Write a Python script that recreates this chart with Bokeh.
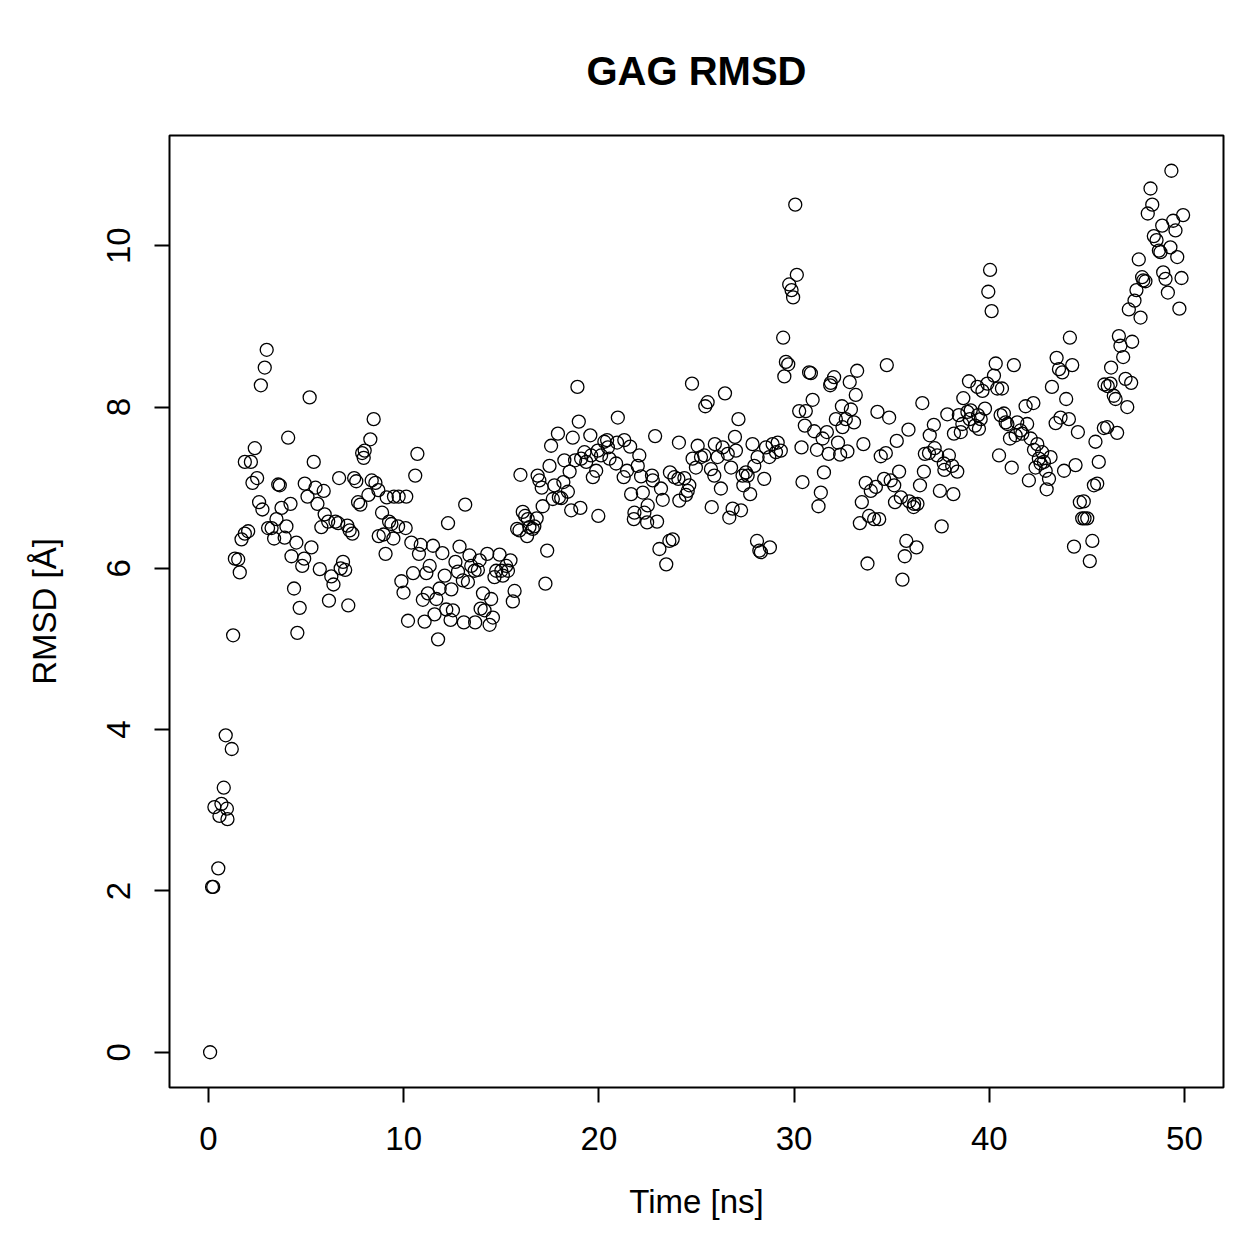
from bokeh.plotting import figure
from bokeh.models import Range1d, FixedTicker, ColumnDataSource
from bokeh.embed import file_html
from bokeh.resources import INLINE

time_ns = [
 0.08,0.18,0.24,0.30,0.50,0.56,0.66,0.78,0.88,0.94,0.97,1.19,
 1.26,1.35,1.52,1.60,1.69,1.86,2.03,1.86,2.17,2.25,2.37,2.49,2.59,2.68,2.76,2.88,2.98,
 3.05,3.23,3.36,3.48,3.57,3.65,3.74,3.90,3.99,4.08,4.20,4.25,4.38,4.50,4.55,4.67,4.80,4.90,4.93,
 5.07,5.18,5.27,5.39,5.48,5.58,5.70,5.78,5.90,5.95,6.13,6.17,6.29,6.40,6.50,6.64,6.69,6.77,6.89,
 7.00,7.11,7.16,7.23,7.37,7.46,7.57,7.66,7.78,7.87,7.95,8.00,8.19,8.29,8.36,8.46,8.55,8.70,8.72,
 8.89,8.97,9.07,9.13,9.25,9.37,9.47,9.50,9.71,9.74,9.88,9.99,10.10,10.13,10.22,
 10.39,10.48,10.59,10.70,10.78,10.87,10.98,11.07,11.16,11.24,11.33,11.50,11.58,11.67,11.76,11.84,
 11.98,12.10,12.18,12.27,12.40,12.44,12.52,12.65,12.78,12.86,13.03,13.08,13.15,13.29,13.37,13.46,
 13.63,13.66,13.80,13.89,13.94,14.06,14.14,14.28,14.40,14.48,14.57,14.65,14.74,14.91,15.00,15.08,
 15.25,15.34,15.47,15.59,15.68,15.81,15.93,15.98,16.10,16.22,16.32,16.36,16.44,16.61,16.69,16.81,
 16.86,16.95,17.07,17.12,17.26,17.35,17.47,17.55,17.64,17.72,17.90,17.95,18.07,18.18,18.23,18.41,
 18.50,18.58,18.66,18.78,18.90,18.97,19.05,19.09,19.26,19.35,19.56,19.60,19.69,19.86,19.94,19.97,
 20.11,20.28,20.46,20.54,
 20.42,20.88,20.93,20.97,21.27,21.30,21.44,21.60,21.65,21.79,21.82,21.99,22.07,22.16,22.25,22.33,
 22.47,22.50,22.72,22.76,22.88,22.98,23.10,23.18,23.27,23.45,23.61,23.64,23.78,23.87,24.07,24.10,
 24.12,24.38,24.46,24.55,24.63,24.77,24.80,24.97,25.06,25.23,25.40,25.45,25.57,25.74,25.78,25.91,
 25.94,26.08,26.25,26.34,26.46,26.60,26.68,26.77,26.85,26.97,27.02,27.15,27.28,27.36,27.40,27.53,
 27.62,27.75,27.87,27.96,28.10,28.13,28.22,28.30,28.47,28.56,28.73,28.76,28.90,29.07,29.16,29.32,
 29.44,29.50,29.58,29.70,29.75,29.87,29.95,30.06,30.14,30.26,30.38,30.43,30.55,30.60,30.77,30.86,
 30.95,31.03,31.17,31.25,31.37,31.46,31.53,31.68,31.77,31.85,31.88,32.05,32.14,32.25,32.36,32.45,
 32.48,32.65,32.73,32.85,32.91,33.07,33.16,33.23,33.37,33.47,33.55,33.67,33.76,33.84,33.93,34.10,
 34.19,34.27,34.36,34.44,34.61,34.70,34.75,34.87,34.95,35.13,35.17,35.26,35.38,35.47,35.55,35.67,
 35.75,35.86,35.90,36.12,36.15,36.27,36.32,36.45,36.57,36.65,36.70,36.91,36.95,37.16,37.20,37.33,
 37.47,37.56,37.67,37.70,37.85,37.93,38.10,38.16,38.19,38.36,38.44,38.54,38.62,38.67,38.88,38.96,
 39.00,39.05,39.27,39.39,39.42,39.47,39.56,39.65,39.78,39.90,39.95,40.04,40.12,40.24,40.33,40.41,
 40.50,40.58,
 40.65,40.75,40.84,40.93,41.06,41.15,41.26,41.35,41.43,41.60,41.69,41.86,41.94,42.03,42.12,42.26,
 42.29,42.37,42.46,42.54,42.63,42.71,42.80,42.89,42.94,43.06,43.14,43.21,43.40,43.45,43.57,43.65,
 43.74,43.83,43.94,44.08,44.13,44.25,44.34,44.42,44.54,44.64,44.76,44.84,44.88,45.02,45.15,45.28,
 45.36,45.44,45.53,45.61,45.87,45.90,46.04,46.07,46.21,46.24,46.38,46.47,46.55,46.64,46.72,46.86,
 46.98,47.07,47.15,47.27,47.32,47.44,47.54,47.66,47.75,47.83,47.89,48.00,48.12,48.26,48.35,48.43,
 48.57,48.69,48.77,48.86,48.91,49.03,49.15,49.28,49.33,49.42,49.54,49.63,49.74,49.85,49.93,
]

rmsd = [
 0.00,2.05,2.05,3.04,2.28,2.93,3.08,3.28,3.93,3.02,2.89,3.76,
 5.17,6.12,6.11,5.95,6.36,6.43,6.46,7.32,7.32,7.06,7.49,7.12,6.82,8.27,6.73,8.49,8.71,
 6.50,6.50,6.37,6.61,7.04,7.03,6.75,6.38,6.52,7.62,6.80,6.15,5.75,6.32,5.20,5.51,6.03,6.12,7.05,
 6.89,8.12,6.26,7.32,7.00,6.80,5.99,6.51,6.96,6.67,6.58,5.60,5.90,5.80,6.58,6.56,7.12,6.00,6.08,
 5.98,6.53,5.54,6.47,6.43,7.12,7.08,6.82,6.79,7.43,7.37,7.46,6.91,7.60,7.09,7.85,7.06,6.97,6.40,
 6.69,6.42,6.18,6.88,6.58,6.55,6.37,6.89,6.52,6.89,5.84,5.70,6.50,6.89,5.35,
 6.32,5.94,7.15,7.42,6.18,6.29,5.61,5.34,5.94,5.69,6.03,6.28,5.43,5.62,5.12,5.75,
 6.19,5.91,5.49,6.56,5.36,5.74,5.48,6.08,5.96,6.27,5.85,5.33,6.79,5.83,6.16,6.03,
 5.97,5.33,5.98,6.10,5.50,5.69,5.48,6.18,5.30,5.62,5.39,5.89,5.97,6.17,5.97,5.91,
 6.03,5.97,6.10,5.59,5.72,6.49,6.47,7.16,6.70,6.65,6.40,6.61,6.51,6.49,6.52,6.62,
 7.15,7.09,7.00,6.77,5.81,6.22,7.27,7.52,6.86,7.03,7.67,6.88,6.87,7.07,7.34,6.95,
 7.20,6.72,7.62,7.34,8.25,7.82,6.75,7.36,7.44,7.32,7.65,7.40,7.13,7.21,7.46,6.65,
 7.40,7.57,7.50,7.36,
 7.59,7.30,7.56,7.87,7.13,7.59,7.21,7.51,6.92,6.61,6.69,7.27,7.40,7.14,6.94,6.69,
 6.57,6.78,7.15,7.09,7.64,6.58,6.24,6.99,6.85,6.05,6.34,7.19,6.36,7.13,7.11,7.56,
 6.84,7.12,6.91,6.96,7.03,8.29,7.36,7.25,7.52,7.38,7.40,8.01,8.06,7.23,6.76,7.15,
 7.54,7.38,6.99,7.50,8.17,7.42,6.63,7.25,6.74,7.63,7.46,7.85,6.72,7.15,7.03,7.19,
 7.15,6.92,7.54,7.27,6.34,7.38,6.22,6.20,7.11,7.50,7.38,6.26,7.54,7.44,7.56,7.46,
 8.86,8.38,8.56,8.53,9.52,9.45,9.36,10.51,9.64,7.95,7.50,7.07,7.77,7.95,8.43,8.42,
 8.09,7.70,7.47,6.77,6.94,7.61,7.19,7.69,7.42,8.27,8.30,8.37,7.85,7.56,7.41,8.01,
 7.75,7.85,7.45,8.31,7.97,7.81,8.15,8.45,6.56,6.82,7.54,7.06,6.06,6.65,6.96,6.61,
 7.01,7.94,6.61,7.39,7.11,7.43,8.52,7.87,7.09,7.03,6.82,7.58,7.20,6.88,5.86,6.15,
 6.34,7.72,6.83,6.76,6.80,6.26,6.80,7.03,8.05,7.20,7.42,7.43,7.65,7.78,7.49,7.40,
 6.96,6.52,7.30,7.22,7.91,7.40,7.27,6.92,7.67,7.20,7.90,7.69,7.79,8.11,7.94,8.32,
 7.85,7.96,7.77,8.25,7.90,7.73,7.85,8.20,7.98,8.29,9.43,9.70,9.19,8.39,8.54,8.23,
 7.40,7.90,
 8.23,7.92,7.81,7.79,7.61,7.25,8.52,7.65,7.81,7.71,7.67,8.01,7.79,7.09,7.61,8.05,
 7.47,7.25,7.54,7.36,7.30,7.44,7.32,7.21,6.98,7.11,7.38,8.25,7.80,8.61,8.47,7.87,
 8.43,7.21,8.10,7.85,8.86,8.52,6.27,7.28,7.69,6.82,6.62,6.83,6.62,6.62,6.09,6.34,
 7.03,7.57,7.05,7.32,7.74,8.28,7.75,8.26,8.29,8.49,8.14,8.10,7.68,8.88,8.76,8.62,
 8.35,8.00,9.21,8.30,8.81,9.32,9.45,9.83,9.11,9.61,9.57,9.56,10.40,10.71,10.51,10.12,
 10.07,9.94,9.92,10.25,9.67,9.59,9.42,9.98,10.93,10.31,10.19,9.86,9.22,9.60,10.38,
]

x_ticks = [0, 10, 20, 30, 40, 50]
y_ticks = [0, 2, 4, 6, 8, 10]

FONT = "Liberation Sans"

src = ColumnDataSource(dict(t=time_ns, r=rmsd))

xmin, xmax = 0.0, 50.0
ymin, ymax = min(rmsd), max(rmsd)
xpad = 0.04 * (xmax - xmin)
ypad = 0.04 * (ymax - ymin)

p = figure(width=1259, height=1259, output_backend="svg", toolbar_location=None,
           x_range=Range1d(xmin - xpad, xmax + xpad),
           y_range=Range1d(ymin - ypad, ymax + ypad),
           min_border_left=169, min_border_right=36,
           min_border_top=135, min_border_bottom=172,
           title="GAG RMSD")

p.background_fill_color = "white"
p.border_fill_color = "white"
p.outline_line_color = "black"
p.outline_line_width = 2
p.grid.visible = False

p.title.align = "center"
p.title.text_font = FONT
p.title.text_font_size = "40px"
p.title.text_font_style = "bold"
p.title.text_color = "black"
p.title.standoff = 85

for ax in (p.xaxis[0], p.yaxis[0]):
    ax.axis_line_color = None
    ax.major_tick_line_color = "black"
    ax.major_tick_line_width = 2
    ax.major_tick_in = 0
    ax.major_tick_out = 15
    ax.minor_tick_line_color = None
    ax.major_label_text_font = FONT
    ax.major_label_text_font_size = "33px"
    ax.major_label_text_color = "black"
    ax.axis_label_text_font = FONT
    ax.axis_label_text_font_size = "33px"
    ax.axis_label_text_font_style = "normal"
    ax.axis_label_text_color = "black"

p.xaxis.ticker = FixedTicker(ticks=x_ticks)
p.yaxis.ticker = FixedTicker(ticks=y_ticks)
p.xaxis.axis_label = "Time [ns]"
p.yaxis.axis_label = "RMSD [Å]"
p.xaxis.major_label_standoff = 24
p.yaxis.major_label_standoff = 24
p.xaxis.axis_label_standoff = 30
p.yaxis.axis_label_standoff = 42
p.yaxis.major_label_orientation = "vertical"

p.scatter("t", "r", source=src, marker="circle", size=13,
          fill_color=None, line_color="black", line_width=1.3)

open("out.html", "w").write(file_html(p, INLINE))
